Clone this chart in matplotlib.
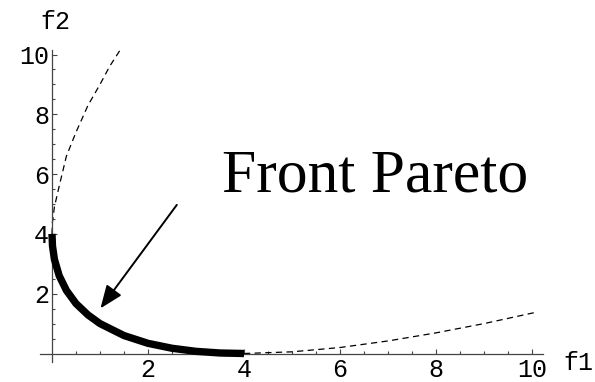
import numpy as np
import matplotlib
matplotlib.use('Agg')
import matplotlib.pyplot as plt
from matplotlib.ticker import FixedLocator

# pareto front (solid) and the two dominated branches (dashed), read as f1/f2 pairs
front_f1 = [0.0, 0.01, 0.05, 0.15, 0.3, 0.5, 0.75, 1.0, 1.5, 2.0, 2.5, 3.0, 3.5, 4.0]
front_f2 = [4.0, 3.6, 3.15, 2.6, 2.11, 1.67, 1.29, 1.0, 0.6, 0.34, 0.175, 0.072, 0.017, 0.0]

upper_f1 = [0.0, 0.01, 0.05, 0.15, 0.3, 0.5, 0.75, 1.0, 1.2, 1.44]
upper_f2 = [4.0, 4.41, 4.9, 5.6, 6.6, 7.4, 8.3, 9.0, 9.6, 10.2]

lower_f1 = [4.0, 5.0, 6.0, 7.0, 8.0, 9.0, 10.0, 10.1]
lower_f2 = [0.0, 0.056, 0.2, 0.42, 0.69, 1.0, 1.35, 1.38]

major_ticks = [2, 4, 6, 8, 10]
tick_labels = ['2', '4', '6', '8', '10']

mono = 'Liberation Mono'

fig = plt.figure(figsize=(5.95, 3.82), dpi=100)
ax = fig.add_axes([0, 0, 1, 1])

# axes scale: 48 px per unit in f1, ~29.9 px per unit in f2, origin at (52, 353.5)
ax.set_xlim(-52 / 48, (595 - 52) / 48)
ax.set_ylim(-(382 - 353.5) / 29.9, 353.5 / 29.9)
ax.patch.set_visible(False)

for side in ['top', 'right']:
    ax.spines[side].set_visible(False)
for side in ['left', 'bottom']:
    ax.spines[side].set_position(('data', 0))
    ax.spines[side].set_color('#444444')
    ax.spines[side].set_linewidth(0.9)
ax.spines['bottom'].set_bounds(-0.25, 10.23)
ax.spines['left'].set_bounds(-0.28, 10.15)

minor = [v for v in np.arange(0.5, 10.01, 0.5) if v not in major_ticks]
ax.xaxis.set_major_locator(FixedLocator(major_ticks))
ax.yaxis.set_major_locator(FixedLocator(major_ticks))
ax.xaxis.set_minor_locator(FixedLocator(minor))
ax.yaxis.set_minor_locator(FixedLocator(minor))
ax.set_xticklabels(tick_labels, fontfamily=mono, fontsize=18)
ax.set_yticklabels(tick_labels, fontfamily=mono, fontsize=18)
ax.tick_params(which='major', direction='in', length=3.5, width=0.8, color='#444444')
ax.tick_params(which='minor', direction='in', length=2, width=0.8, color='#444444')
ax.tick_params(axis='x', pad=3)
ax.tick_params(axis='y', pad=2)

ax.plot(upper_f1, upper_f2, color='black', lw=0.9, dashes=(5, 3.5))
ax.plot(lower_f1, lower_f2, color='black', lw=0.9, dashes=(5, 3.5))
ax.plot(front_f1, front_f2, color='black', lw=5.3, solid_capstyle='butt', zorder=3)

ax.annotate('', xy=(1.01, 1.51), xytext=(2.60, 4.97),
            arrowprops=dict(arrowstyle='-|>,head_length=0.7,head_width=0.28',
                            mutation_scale=20, lw=1.4, color='black',
                            shrinkA=0, shrinkB=0))

fig.text(222 / 595, 1 - 192 / 382, 'Front Pareto', fontfamily='Liberation Serif',
         fontsize=44.4, va='baseline', ha='left')
fig.text(563 / 595, 1 - 363 / 382, 'f1', fontfamily=mono, fontsize=18, va='center', ha='left')
fig.text(40 / 595, 1 - 22 / 382, 'f2', fontfamily=mono, fontsize=18, va='center', ha='left')

fig.savefig('out.png', dpi=100)
